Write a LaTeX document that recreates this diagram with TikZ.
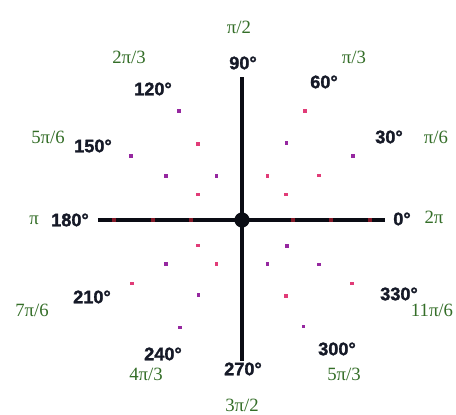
\documentclass[tikz,border=0pt]{standalone}
\usepackage{fontspec}
\usetikzlibrary{positioning}
\newfontfamily\degfont{Liberation Sans}[BoldFeatures={FakeBold=1.5}]
\newfontfamily\radfont{Liberation Serif}
\definecolor{axisink}{RGB}{10,12,20}
\definecolor{degink}{RGB}{22,26,40}
\definecolor{radgreen}{RGB}{52,110,40}
\definecolor{dotpurple}{RGB}{150,40,160}
\definecolor{dotpink}{RGB}{225,60,120}
\definecolor{dotred}{RGB}{130,25,40}

\begin{document}
\begin{tikzpicture}[
    x=0.03cm, y=0.03cm,
    axis/.style={axisink, line width=2.8pt},
    deg/.style={font=\degfont\bfseries\fontsize{15.5}{16}\selectfont, text=degink, inner sep=0pt},
    rad/.style={font=\radfont\fontsize{16}{16}\selectfont, text=radgreen, inner sep=0pt},
    pt/.style={rectangle, inner sep=0pt, minimum size=3.2pt},
    pp/.style={pt, fill=dotpurple},
    pk/.style={pt, fill=dotpink},
    pr/.style={pt, fill=dotred},
    origin/.style={circle, fill=axisink, inner sep=0pt, minimum size=13pt},
]
\useasboundingbox (-242,-194) rectangle (214,220);

% ── Axes ──
\coordinate (xl) at (-144,0);
\coordinate (xr) at (143,0);
\coordinate (yt) at (0,143);
\coordinate (yb) at (0,-141);
\draw[axis] (xl) -- (xr);
\draw[axis] (yt) -- (yb);

% ── Dots on the horizontal axis ──
\node[pr] (d0a) at (0:51) {};   \node[pr] (d0b) at (0:89) {};   \node[pr] (d0c) at (0:128) {};
\node[pr] (d180a) at (180:51) {}; \node[pr] (d180b) at (180:89) {}; \node[pr] (d180c) at (180:128) {};

% ── Dots on the diagonals ──
\node[pk] (d30a) at (30:51) {};   \node[pk] (d30b) at (30:89) {};   \node[pp] (d30c) at (30:128) {};
\node[pk] (d60a) at (60:51) {};   \node[pp] (d60b) at (60:89) {};   \node[pk] (d60c) at (60:126) {};
\node[pp] (d120a) at (120:51) {}; \node[pk] (d120b) at (120:88) {}; \node[pp] (d120c) at (120:126) {};
\node[pk] (d150a) at (150:51) {}; \node[pp] (d150b) at (150:88) {}; \node[pp] (d150c) at (150:128) {};
\node[pk] (d210a) at (210:51) {}; \node[pp] (d210b) at (210:88) {}; \node[pk] (d210c) at (210:127) {};
\node[pk] (d240a) at (240:51) {}; \node[pp] (d240b) at (240:87) {}; \node[pp] (d240c) at (240:124) {};
\node[pp] (d300a) at (300:51) {}; \node[pk] (d300b) at (300:88) {}; \node[pp] (d300c) at (300:123) {};
\node[pp] (d330a) at (330:52) {}; \node[pp] (d330b) at (330:89) {}; \node[pk] (d330c) at (330:127) {};

% ── Origin ──
\node[origin] (o) at (0,0) {};

% ── Degree labels ──
\node[deg] (g0)   at (160,1)    {0°};
\node[deg] (g30)  at (147,83)   {30°};
\node[deg] (g60)  at (82,138)   {60°};
\node[deg] (g90)  at (1,157)    {90°};
\node[deg] (g120) at (-89,131)  {120°};
\node[deg] (g150) at (-149,74)  {150°};
\node[deg] (g180) at (-172,0)   {180°};
\node[deg] (g210) at (-150,-77) {210°};
\node[deg] (g240) at (-79,-134) {240°};
\node[deg] (g270) at (1,-149)   {270°};
\node[deg] (g300) at (95,-129)  {300°};
\node[deg] (g330) at (157,-74)  {330°};

% ── Radian labels ──
\node[rad] (r0)   at (192,3)     {2π};
\node[rad] (r30)  at (194,83)    {π/6};
\node[rad] (r60)  at (112,163)   {π/3};
\node[rad] (r90)  at (-3,193)    {π/2};
\node[rad] (r120) at (-113,163)  {2π/3};
\node[rad] (r150) at (-194,83)   {5π/6};
\node[rad] (r180) at (-208,0)    {π};
\node[rad] (r210) at (-210,-90)  {7π/6};
\node[rad] (r240) at (-96,-154)  {4π/3};
\node[rad] (r270) at (0,-185)    {3π/2};
\node[rad] (r300) at (102,-154)  {5π/3};
\node[rad] (r330) at (190,-90)   {11π/6};

\end{tikzpicture}
\end{document}
